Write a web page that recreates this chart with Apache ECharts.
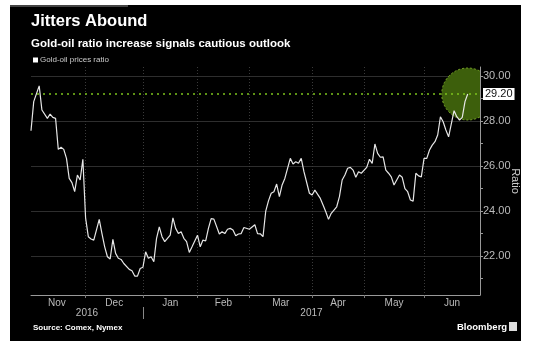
<!DOCTYPE html>
<html>
<head>
    <meta charset="utf-8"/>
    <title>Jitters Abound</title>
    <style>
        body { margin: 0; background: #fff; }
        #main { position: absolute; left: 10px; top: 5px; width: 511px; height: 336px; }
    </style>
</head>
<body>
<div id="main"></div>
<script src="https://cdn.jsdelivr.net/npm/echarts@6/dist/echarts.min.js"></script>
<script type="text/javascript">
    // x = trading day index counted from Nov 1 2016
    var dayIdx = [1, 2, 4, 5, 7, 8, 9, 10, 11, 12, 13, 14, 15, 16, 17, 18, 19, 20, 21, 22,
        23, 24, 26, 27, 28, 29, 30, 31, 32, 33, 34, 35, 37, 38, 39, 40, 41, 42, 43, 44,
        45, 46, 47, 48, 49, 50, 52, 53, 54, 55, 56, 57, 58, 59, 60, 62, 63, 64, 65, 66,
        67, 68, 70, 71, 72, 73, 74, 75, 76, 77, 78, 79, 81, 83, 84, 85, 86, 87, 88, 89,
        90, 91, 92, 93, 94, 96, 97, 98, 99, 100, 101, 103, 104, 105, 107, 108, 109, 110, 111, 113,
        114, 115, 116, 117, 118, 119, 120, 121, 122, 124, 125, 126, 127, 128, 129, 130, 131, 132, 133, 134,
        136, 137, 138, 139, 140, 141, 142, 143, 144, 145, 146, 147, 148, 149, 150, 151, 152, 153, 154, 156,
        157, 158, 159, 160, 161];
    var ratio = [27.57, 28.86, 29.56, 28.49, 28.12, 28.31, 28.16, 28.12, 26.74, 26.83, 26.74, 26.34, 25.45, 25.26, 24.86, 25.60, 25.38, 26.30, 23.70, 22.86,
        22.76, 22.71, 23.63, 23.00, 22.41, 21.97, 21.87, 22.74, 22.12, 21.90, 21.85, 21.67, 21.41, 21.35, 21.11, 21.11, 21.45, 21.50, 22.19, 21.90,
        21.97, 21.75, 22.79, 23.30, 22.86, 22.64, 22.93, 23.70, 23.23, 23.00, 23.08, 22.79, 22.64, 22.16, 22.41, 22.93, 22.41, 22.71, 22.67, 23.23,
        23.66, 23.64, 22.98, 23.08, 23.00, 23.19, 23.23, 23.16, 22.90, 22.98, 23.00, 23.27, 23.19, 23.39, 23.00, 22.99, 22.86, 24.00, 24.45, 24.79,
        24.86, 25.20, 24.64, 25.16, 25.45, 26.34, 26.09, 26.19, 26.12, 26.34, 25.75, 24.79, 24.71, 24.93, 24.56, 24.27, 23.97, 23.63, 23.90, 24.19,
        24.64, 25.38, 25.60, 25.90, 25.94, 25.82, 25.50, 25.75, 25.68, 25.94, 26.30, 26.12, 26.98, 26.56, 26.39, 26.41, 25.82, 25.68, 25.52, 25.16,
        25.60, 25.50, 25.00, 24.86, 24.49, 24.44, 25.68, 25.56, 25.52, 26.34, 26.34, 26.71, 26.93, 27.08, 27.38, 28.19, 27.97, 27.60, 27.30, 28.46,
        28.19, 28.04, 28.16, 28.86, 29.20];

    var monthNames = ['Nov', 'Dec', 'Jan', 'Feb', 'Mar', 'Apr', 'May', 'Jun'];
    var monthMid = [10.5, 31.5, 52, 71.5, 92.5, 113.5, 134, 155.25];
    var monthStart = [21, 42, 62, 81, 104, 123, 145];
    var yearNames = ['2016', '2017'];
    var yearMid = [21.5, 103.75];
    var yearStart = [42];
    var yLabels = [22, 24, 26, 28, 30];
    var yMinorTicks = [21, 23, 25, 27, 29];

    var points = dayIdx.map(function (d, i) { return [d, ratio[i]]; });
    var last = points[points.length - 1];

    var font = '"Liberation Sans", Arial, sans-serif';
    var chart = echarts.init(document.getElementById('main'));
    chart.setOption({
        backgroundColor: '#000',
        animation: false,
        textStyle: { fontFamily: font },
        title: [{
            text: 'Jitters Abound',
            left: 21, top: 8, padding: 0,
            textStyle: { color: '#fff', fontSize: 16.5, fontWeight: 'bold', fontFamily: font }
        }, {
            text: 'Gold-oil ratio increase signals cautious outlook',
            left: 21, top: 33, padding: 0,
            textStyle: { color: '#fff', fontSize: 11.5, fontWeight: 'bold', fontFamily: font }
        }, {
            text: 'Source: Comex, Nymex',
            left: 23, top: 319, padding: 0,
            textStyle: { color: '#fff', fontSize: 8, fontWeight: 'bold', fontFamily: font }
        }, {
            text: 'Bloomberg',
            left: 447, top: 317, padding: 0,
            textStyle: { color: '#fff', fontSize: 9.5, fontWeight: 'bold', fontFamily: font }
        }],
        graphic: [
            { type: 'rect', left: 0, top: 0, shape: { width: 118, height: 2 }, style: { fill: '#444' } },
            { type: 'rect', left: 499, top: 317, shape: { width: 8, height: 9 }, style: { fill: '#ddd' } }
        ],
        legend: {
            left: 23, top: 51, padding: 0,
            icon: 'rect', itemWidth: 5, itemHeight: 5, itemGap: 4,
            textStyle: { color: '#ccc', fontSize: 8, padding: [0, 0, 0, -3] },
            data: ['Gold-oil prices ratio']
        },
        grid: { left: 21, right: 41, top: 62, bottom: 46, outerBoundsMode: 'none', containLabel: false },
        xAxis: [{
            type: 'value', min: 1, max: 165.5,
            axisLine: { show: true, lineStyle: { color: '#999', width: 1 } },
            axisTick: { show: true, customValues: monthStart, length: 3, lineStyle: { color: '#777' } },
            splitLine: { show: true, lineStyle: { color: '#3a3a3a', type: [1, 2] } },
            axisLabel: {
                customValues: monthMid, color: '#bbb', fontSize: 10, margin: 3,
                formatter: function (v) { return monthNames[monthMid.indexOf(v)]; }
            }
        }, {
            type: 'value', min: 1, max: 165.5, position: 'bottom', offset: 12,
            axisLine: { show: false },
            axisTick: { show: true, customValues: yearStart, length: 12, inside: false, lineStyle: { color: '#888' } },
            splitLine: { show: false },
            axisLabel: {
                customValues: yearMid, color: '#bbb', fontSize: 10, margin: 1,
                formatter: function (v) { return yearNames[yearMid.indexOf(v)]; }
            }
        }],
        yAxis: [{
            type: 'value', position: 'right', min: 20.27, max: 30.4,
            name: 'Ratio', nameLocation: 'middle', nameRotate: -90, nameGap: 30,
            nameMoveOverlap: false,
            nameTextStyle: { color: '#ccc', fontSize: 11 },
            axisLine: { show: true, lineStyle: { color: '#999', width: 1 } },
            axisTick: { show: true, customValues: yLabels, length: 3, lineStyle: { color: '#999' } },
            splitLine: { show: true, lineStyle: { color: '#2e2e2e', width: 1 } },
            axisLabel: {
                customValues: yLabels, color: '#bbb', fontSize: 11, margin: 3,
                formatter: function (v) { return v.toFixed(2); }
            }
        }, {
            type: 'value', position: 'right', min: 20.27, max: 30.4,
            axisLine: { show: false },
            axisTick: { show: true, customValues: yMinorTicks, length: 3, lineStyle: { color: '#999' } },
            splitLine: { show: false },
            axisLabel: { show: false }
        }],
        series: [{
            type: 'custom',
            clip: true,
            z: 1,
            silent: true,
            data: [last],
            renderItem: function (params, api) {
                var p = api.coord([api.value(0), api.value(1)]);
                return {
                    type: 'circle',
                    shape: { cx: p[0], cy: p[1], r: 26 },
                    style: { fill: '#3d5f0c', stroke: '#7aa828', lineWidth: 1, lineDash: [2, 2] }
                };
            }
        }, {
            name: 'Gold-oil prices ratio',
            type: 'line',
            z: 3,
            data: points,
            symbol: 'none',
            color: '#fff',
            lineStyle: { color: '#e6e6e6', width: 1.2 },
            markLine: {
                silent: true,
                symbol: 'none',
                lineStyle: { color: '#7cc21c', type: [2, 4], width: 1.5 },
                label: {
                    position: 'end', distance: 3,
                    formatter: function (p) { return p.value.toFixed(2); },
                    backgroundColor: '#fff', color: '#111', fontSize: 11, padding: [1, 2, 0, 2]
                },
                data: [{ yAxis: last[1] }]
            }
        }]
    });
</script>
</body>
</html>
